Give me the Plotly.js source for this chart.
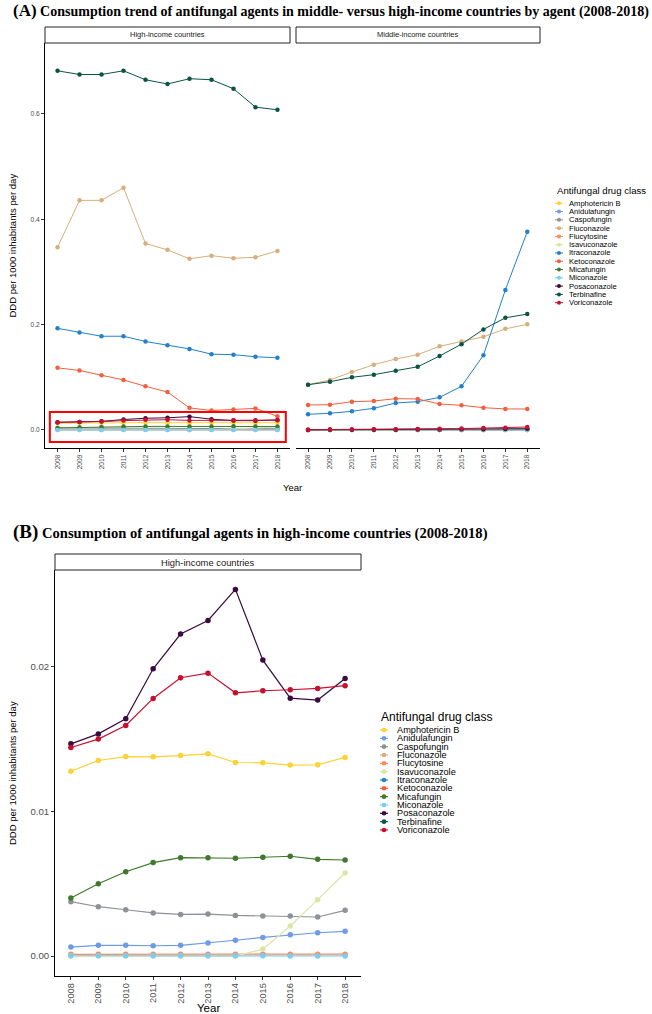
<!DOCTYPE html>
<html>
<head>
<meta charset="utf-8">
<script src="https://cdn.plot.ly/plotly-3.0.1.min.js"></script>
<style>html,body{margin:0;padding:0;background:#fff;}#chart{width:652px;height:1014px;}</style>
</head>
<body>
<div id="chart"></div>
<script>
// ---------- DATA ----------
const years = [2008, 2009, 2010, 2011, 2012, 2013, 2014, 2015, 2016, 2017, 2018];
const drugNames = ['Amphotericin B', 'Anidulafungin', 'Caspofungin', 'Fluconazole', 'Flucytosine',
  'Isavuconazole', 'Itraconazole', 'Ketoconazole', 'Micafungin', 'Miconazole', 'Posaconazole',
  'Terbinafine', 'Voriconazole'];
const drugColors = ['#FDD235', '#6F9BE6', '#8E9196', '#D7AE7C', '#FF8A5C', '#DDE5A4', '#2281C9',
  '#F2603F', '#3F7A2C', '#78CDF2', '#3A0B3E', '#0B5444', '#C8102E'];
const facetLabels = ['High-income countries', 'Middle-income countries'];

// High-income countries (DDD per 1000 inhabitants per day)
const hiAmphotericinB = [0.01278, 0.01352, 0.01379, 0.01377, 0.01386, 0.01398, 0.01338, 0.01336, 0.01320, 0.01322, 0.01373];
const hiAnidulafungin = [0.00062, 0.00074, 0.00074, 0.00071, 0.00074, 0.00090, 0.00109, 0.00129, 0.00147, 0.00161, 0.00171];
const hiCaspofungin   = [0.00376, 0.00341, 0.00320, 0.00298, 0.00288, 0.00290, 0.00281, 0.00277, 0.00277, 0.00270, 0.00316];
const hiFluconazole   = [0.347, 0.436, 0.436, 0.460, 0.354, 0.342, 0.325, 0.331, 0.326, 0.328, 0.340];
const hiFlucytosine   = [0.00012, 0.00012, 0.00012, 0.00012, 0.00012, 0.00012, 0.00012, 0.00012, 0.00012, 0.00012, 0.00013];
const hiIsavuconazole = [0, 0, 0, 0, 0, 0, 0, 0.00048, 0.00208, 0.00390, 0.00574];
const hiItraconazole  = [0.193, 0.185, 0.178, 0.178, 0.168, 0.161, 0.154, 0.144, 0.143, 0.139, 0.137];
const hiKetoconazole  = [0.118, 0.113, 0.104, 0.095, 0.083, 0.072, 0.042, 0.037, 0.039, 0.041, 0.026];
const hiMicafungin    = [0.00401, 0.00500, 0.00583, 0.00646, 0.00680, 0.00680, 0.00676, 0.00683, 0.00690, 0.00669, 0.00664];
const hiMiconazole    = [0.00002, 0.00002, 0.00002, 0.00002, 0.00002, 0.00002, 0.00002, 0.00002, 0.00001, 0.00001, 0.00001];
const hiPosaconazole  = [0.01467, 0.01536, 0.01640, 0.01986, 0.02226, 0.02320, 0.02535, 0.02046, 0.01783, 0.01770, 0.01919];
const hiTerbinafine   = [0.682, 0.675, 0.675, 0.682, 0.665, 0.657, 0.667, 0.665, 0.648, 0.613, 0.608];
const hiVoriconazole  = [0.01442, 0.01500, 0.01594, 0.01781, 0.01924, 0.01956, 0.01820, 0.01834, 0.01841, 0.01850, 0.01869];

// Middle-income countries
const miAmphotericinB = [0.0008, 0.0008, 0.0009, 0.0009, 0.0009, 0.0010, 0.0010, 0.0010, 0.0011, 0.0011, 0.0012];
const miAnidulafungin = [0, 0, 0, 0, 0, 0, 0, 0.00001, 0.00001, 0.00002, 0.00002];
const miCaspofungin   = [0.0002, 0.0003, 0.0003, 0.0003, 0.0004, 0.0004, 0.0004, 0.0005, 0.0005, 0.0006, 0.0006];
const miFluconazole   = [0.086, 0.095, 0.110, 0.124, 0.1348, 0.143, 0.159, 0.168, 0.177, 0.192, 0.2007];
const miFlucytosine   = [0.0001, 0.0001, 0.0001, 0.0001, 0.0001, 0.0001, 0.0001, 0.0001, 0.0001, 0.0001, 0.0001];
const miIsavuconazole = [0, 0, 0, 0, 0, 0, 0, 0, 0, 0, 0.00002];
const miItraconazole  = [0.0298, 0.0317, 0.0355, 0.0412, 0.0513, 0.0538, 0.062, 0.083, 0.142, 0.266, 0.3765];
const miKetoconazole  = [0.0475, 0.0480, 0.0538, 0.0550, 0.0595, 0.0589, 0.0494, 0.0468, 0.0424, 0.0399, 0.0399];
const miMicafungin    = [0.0003, 0.0004, 0.0004, 0.0005, 0.0005, 0.0005, 0.0006, 0.0006, 0.0006, 0.0007, 0.0007];
const miMiconazole    = [0.0002, 0.0002, 0.0002, 0.0002, 0.0002, 0.0002, 0.0002, 0.0002, 0.0002, 0.0002, 0.0002];
const miPosaconazole  = [0.0002, 0.0003, 0.0004, 0.0005, 0.0006, 0.0008, 0.0010, 0.0012, 0.0016, 0.0020, 0.0025];
const miTerbinafine   = [0.086, 0.0917, 0.100, 0.105, 0.1126, 0.120, 0.1405, 0.163, 0.191, 0.213, 0.220];
const miVoriconazole  = [0.0006, 0.0008, 0.0010, 0.0012, 0.0015, 0.0018, 0.0022, 0.0027, 0.0036, 0.0044, 0.0057];

const hiSeries = [hiAmphotericinB, hiAnidulafungin, hiCaspofungin, hiFluconazole, hiFlucytosine, hiIsavuconazole,
  hiItraconazole, hiKetoconazole, hiMicafungin, hiMiconazole, hiPosaconazole, hiTerbinafine, hiVoriconazole];
const miSeries = [miAmphotericinB, miAnidulafungin, miCaspofungin, miFluconazole, miFlucytosine, miIsavuconazole,
  miItraconazole, miKetoconazole, miMicafungin, miMiconazole, miPosaconazole, miTerbinafine, miVoriconazole];
// Panel B shows only the low-volume agents
const panelBDrugs = ['Amphotericin B', 'Anidulafungin', 'Caspofungin', 'Flucytosine', 'Isavuconazole',
  'Micafungin', 'Miconazole', 'Posaconazole', 'Voriconazole'];

// ---------- LAYOUT HELPERS ----------
const W = 652, H = 1014;
const px = v => v / W;
const py = v => 1 - v / H;
const SANS = 'Liberation Sans, Arial, sans-serif';
const SERIF = 'Liberation Serif, Times New Roman, serif';

const traces = [];
function addPanel(series, xa, ya, msize, lw, filter) {
  drugNames.forEach((name, i) => {
    if (filter && filter.indexOf(name) < 0) return;
    traces.push({
      type: 'scatter', mode: 'lines+markers', name: name, x: years, y: series[i],
      xaxis: xa, yaxis: ya, showlegend: false, cliponaxis: false,
      line: {color: drugColors[i], width: lw},
      marker: {color: drugColors[i], size: msize}
    });
  });
}
addPanel(hiSeries, 'x', 'y', 4.5, 1, null);
addPanel(miSeries, 'x2', 'y2', 4.5, 1, null);
addPanel(hiSeries, 'x3', 'y3', 5.5, 1.2, panelBDrugs);

const shapes = [];
const annotations = [];

// Strips
function strip(x0, x1, y0, y1, label, fs) {
  shapes.push({type: 'rect', xref: 'paper', yref: 'paper', x0: px(x0), x1: px(x1), y0: py(y1), y1: py(y0),
    line: {color: '#222', width: 1}, fillcolor: '#fff', layer: 'above'});
  annotations.push({xref: 'paper', yref: 'paper', x: px((x0 + x1) / 2), y: py((y0 + y1) / 2),
    xanchor: 'center', yanchor: 'middle', showarrow: false, text: label,
    font: {family: SANS, size: fs, color: '#1A1A1A'}});
}
strip(45, 290, 27, 43, facetLabels[0], 7.5);
strip(296, 540, 27, 43, facetLabels[1], 7.5);
strip(55, 361, 554, 570, facetLabels[0], 9.4);

// Legends (drawn compactly, like the original)
function legend(tx, ty, titleSize, symX, textX, y0, step, fs, lw, r) {
  annotations.push({xref: 'paper', yref: 'paper', x: px(tx), y: py(ty), xanchor: 'left', yanchor: 'middle',
    showarrow: false, text: 'Antifungal drug class', font: {family: SANS, size: titleSize, color: '#000'}});
  drugNames.forEach((name, i) => {
    const yy = y0 + i * step;
    shapes.push({type: 'line', xref: 'paper', yref: 'paper', x0: px(symX - 4), x1: px(symX + 4),
      y0: py(yy), y1: py(yy), line: {color: drugColors[i], width: lw}});
    shapes.push({type: 'circle', xref: 'paper', yref: 'paper', x0: px(symX - r), x1: px(symX + r),
      y0: py(yy + r), y1: py(yy - r), line: {width: 0}, fillcolor: drugColors[i]});
    annotations.push({xref: 'paper', yref: 'paper', x: px(textX), y: py(yy), xanchor: 'left', yanchor: 'middle',
      showarrow: false, text: name, font: {family: SANS, size: fs, color: '#000'}});
  });
}
legend(555, 191, 9.6, 559, 567, 203.3, 8.28, 7.6, 1, 2);
legend(379, 717, 12, 384, 395, 730, 8.33, 9.2, 1.2, 2.3);

// Red highlight box in panel A
shapes.push({type: 'rect', xref: 'x', yref: 'y', x0: 2007.65, x1: 2018.38, y0: -0.0228, y1: 0.0342,
  line: {color: '#FF0000', width: 2}, fillcolor: 'rgba(0,0,0,0)'});

// Titles
annotations.push({xref: 'paper', yref: 'paper', x: px(11), y: py(11), xanchor: 'left', yanchor: 'middle',
  showarrow: false, font: {family: SERIF, size: 14, color: '#000'},
  text: "<b><span style='font-size:17px'>(A)</span> Consumption trend of antifungal agents in middle- versus high-income countries by agent (2008-2018)</b>"});
annotations.push({xref: 'paper', yref: 'paper', x: px(11), y: py(532), xanchor: 'left', yanchor: 'middle',
  showarrow: false, font: {family: SERIF, size: 14.6, color: '#000'},
  text: "<b><span style='font-size:19px'>(B)</span> Consumption of antifungal agents in high-income countries (2008-2018)</b>"});

// Axis titles
annotations.push({xref: 'paper', yref: 'paper', x: px(292.5), y: py(487), xanchor: 'center', yanchor: 'middle',
  showarrow: false, text: 'Year', font: {family: SANS, size: 9.5, color: '#000'}});
annotations.push({xref: 'paper', yref: 'paper', x: px(12), y: py(245.5), xanchor: 'center', yanchor: 'middle',
  showarrow: false, textangle: -90, text: 'DDD per 1000 inhabitants per day', font: {family: SANS, size: 9.5, color: '#000'}});
annotations.push({xref: 'paper', yref: 'paper', x: px(208), y: py(1008), xanchor: 'center', yanchor: 'middle',
  showarrow: false, text: 'Year', font: {family: SANS, size: 11.5, color: '#000'}});
annotations.push({xref: 'paper', yref: 'paper', x: px(12), y: py(773), xanchor: 'center', yanchor: 'middle',
  showarrow: false, textangle: -90, text: 'DDD per 1000 inhabitants per day', font: {family: SANS, size: 9.5, color: '#000'}});

function xAxis(dom, anchor, fs, range) {
  return {domain: dom, anchor: anchor, range: range, showgrid: false, zeroline: false,
    showline: true, linecolor: '#000', linewidth: 1, ticks: 'outside', ticklen: 3, tickwidth: 1, tickcolor: '#333',
    tickmode: 'array', tickvals: years, ticktext: years.map(String), tickangle: -90,
    tickfont: {family: SANS, size: fs, color: '#4D4D4D'}, fixedrange: true};
}
function yAxis(dom, anchor, fs, range, vals, fmt) {
  return {domain: dom, anchor: anchor, range: range, showgrid: false, zeroline: false,
    showline: true, linecolor: '#000', linewidth: 1, ticks: 'outside', ticklen: 3, tickwidth: 1, tickcolor: '#333',
    tickmode: 'array', tickvals: vals, ticktext: vals.map(v => v.toFixed(fmt)),
    tickfont: {family: SANS, size: fs, color: '#4D4D4D'}, fixedrange: true};
}

const layout = {
  width: W, height: H, autosize: false,
  margin: {l: 0, r: 0, t: 0, b: 0, pad: 0},
  paper_bgcolor: '#fff', plot_bgcolor: '#fff', showlegend: false,
  xaxis: xAxis([px(45), px(290)], 'y', 6.6, [2007.43, 2018.57]),
  yaxis: yAxis([py(448), py(43)], 'x', 6.6, [-0.0342, 0.7348], [0, 0.2, 0.4, 0.6], 1),
  xaxis2: xAxis([px(296), px(540)], 'y2', 6.6, [2007.45, 2018.58]),
  yaxis2: Object.assign(yAxis([py(448), py(43)], 'x2', 6.6, [-0.0342, 0.7348], [0, 0.2, 0.4, 0.6], 1),
    {showline: false, ticks: '', showticklabels: false}),
  xaxis3: Object.assign(xAxis([px(55), px(361)], 'y3', 9.2, [2007.42, 2018.58]), {ticklen: 2.5}),
  yaxis3: yAxis([py(976), py(570)], 'x3', 9.6, [-0.00138, 0.02669], [0, 0.01, 0.02], 2),
  shapes: shapes,
  annotations: annotations
};

Plotly.newPlot('chart', traces, layout, {displayModeBar: false, staticPlot: true});
</script>
</body>
</html>
